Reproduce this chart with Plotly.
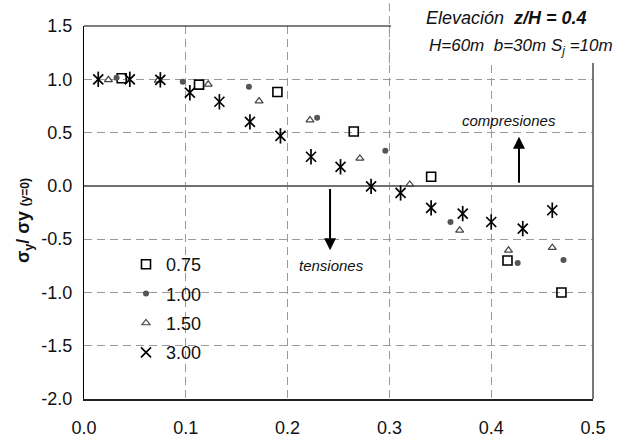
import plotly.graph_objects as go

# ---- data ----
x_075 = [0.037, 0.113, 0.190, 0.265, 0.341, 0.416, 0.469]
y_075 = [1.01, 0.95, 0.88, 0.51, 0.085, -0.70, -1.00]

x_100 = [0.032, 0.097, 0.162, 0.229, 0.296, 0.360, 0.426, 0.471]
y_100 = [1.015, 0.978, 0.93, 0.64, 0.33, -0.34, -0.725, -0.695]

x_150 = [0.024, 0.073, 0.122, 0.172, 0.222, 0.271, 0.320, 0.369, 0.417, 0.460]
y_150 = [0.995, 0.99, 0.953, 0.796, 0.617, 0.257, 0.013, -0.417, -0.605, -0.58]

x_300 = [0.014, 0.045, 0.075, 0.104, 0.133, 0.163, 0.193, 0.223, 0.252, 0.282,
         0.311, 0.341, 0.372, 0.400, 0.431, 0.460]
y_300 = [1.0, 1.0, 0.995, 0.874, 0.789, 0.6, 0.469, 0.273, 0.179, -0.005,
         -0.066, -0.207, -0.26, -0.339, -0.401, -0.229]

series_names = ["0.75", "1.00", "1.50", "3.00"]
x_ticks = [0.0, 0.1, 0.2, 0.3, 0.4, 0.5]
y_ticks = [1.5, 1.0, 0.5, 0.0, -0.5, -1.0, -1.5, -2.0]

FONT = "Liberation Sans, Arial, sans-serif"
TXT = "#111111"

fig = go.Figure()

fig.add_trace(go.Scatter(
    x=x_075, y=y_075, mode="markers", name=series_names[0], legendgroup="a",
    marker=dict(symbol="square-open", size=9, color="black",
                line=dict(width=1.6, color="black"))))
fig.add_trace(go.Scatter(
    x=x_100, y=y_100, mode="markers", name=series_names[1], legendgroup="b",
    marker=dict(symbol="circle", size=6, color="#555555",
                line=dict(width=0))))
fig.add_trace(go.Scatter(
    x=x_150, y=y_150, mode="markers", name=series_names[2], legendgroup="c",
    marker=dict(symbol="triangle-up-open", size=7, color="#444444",
                line=dict(width=1.2, color="#444444"))))
fig.add_trace(go.Scatter(
    x=x_300, y=y_300, mode="markers", name=series_names[3], legendgroup="d",
    marker=dict(symbol="x-thin-open", size=10, color="black",
                line=dict(width=1.7, color="black"))))
fig.add_trace(go.Scatter(
    x=x_300, y=y_300, mode="markers", name=series_names[3], legendgroup="d",
    showlegend=False, hoverinfo="skip",
    marker=dict(symbol="line-ns-open", size=11, color="black",
                line=dict(width=1.7, color="black"))))

grid = dict(showgrid=True, gridcolor="#9a9a9a", gridwidth=1, griddash="8px,5px")

def fmt(v):
    return f"{v:.1f}"

fig.update_xaxes(range=[0, 0.5], tickvals=x_ticks, ticktext=[fmt(v) for v in x_ticks],
                 showline=True, linecolor="#222222", linewidth=1.5,
                 zeroline=False, ticks="", ticklabelstandoff=12, automargin=False,
                 tickfont=dict(size=18, color=TXT, family=FONT), **grid)
fig.update_yaxes(range=[-2, 1.5], tickvals=y_ticks, ticktext=[fmt(v) for v in y_ticks],
                 showline=True, linecolor="black", linewidth=1.2,
                 zeroline=True, zerolinecolor="#707070", zerolinewidth=1.6,
                 ticks="", ticklabelstandoff=7, automargin=False,
                 tickfont=dict(size=18, color=TXT, family=FONT),
                 **grid)

W, H = 619, 438
L, R, T, B = 84, 26, 26, 39
pw, ph = W - L - R, H - T - B
def px_to_paper(px, py):
    return (px - L) / pw, (H - B - py) / ph

shapes = [
    # right frame line (grey)
    dict(type="line", xref="x domain", yref="y domain", x0=1, x1=1, y0=0, y1=1,
         line=dict(color="#555555", width=1.6), layer="above"),
    # top frame line
    dict(type="line", xref="x domain", yref="y domain", x0=0, x1=1, y0=1, y1=1,
         line=dict(color="black", width=1.2), layer="above"),
    # white box behind the title text
    dict(type="rect", xref="paper", yref="paper", x0=px_to_paper(391, 0)[0], x1=1.1,
         y0=px_to_paper(0, 63)[1], y1=1.1,
         fillcolor="white", line=dict(width=0), layer="above"),
    # dashed grid line at x=0.3 continuing to the top
    dict(type="line", xref="x", yref="paper", x0=0.3, x1=0.3, y0=0.9, y1=1.08,
         line=dict(color="#9a9a9a", width=1, dash="8px,5px"), layer="above"),
]

tx1, ty1 = px_to_paper(589, 18)
tx2, ty2 = px_to_paper(615, 47)
yx, yy = px_to_paper(24, 221)

annotations = [
    dict(x=0.4273, y=0.46, ax=0.4273, ay=0.015, xref="x", yref="y", axref="x", ayref="y",
         text="", showarrow=True, arrowhead=2, arrowsize=1.2, arrowwidth=2, arrowcolor="black"),
    dict(x=0.417, y=0.617, xref="x", yref="y", text="<i>compresiones</i>", showarrow=False,
         font=dict(size=15, color=TXT, family=FONT)),
    dict(x=0.2417, y=-0.604, ax=0.2417, ay=-0.015, xref="x", yref="y", axref="x", ayref="y",
         text="", showarrow=True, arrowhead=2, arrowsize=1.2, arrowwidth=2, arrowcolor="black"),
    dict(x=0.2436, y=-0.744, xref="x", yref="y", text="<i>tensiones</i>", showarrow=False,
         font=dict(size=15, color=TXT, family=FONT)),
    dict(x=tx1, y=ty1, xref="paper", yref="paper", xanchor="right", yanchor="middle",
         text="<i>Elevación  <b>z/H = 0.4</b></i>", showarrow=False,
         font=dict(size=18, color=TXT, family=FONT)),
    dict(x=tx2, y=ty2, xref="paper", yref="paper", xanchor="right", yanchor="middle",
         text="<i>H=60m  b=30m S<sub>j</sub> =10m</i>", showarrow=False,
         font=dict(size=17, color=TXT, family=FONT)),
    dict(x=yx, y=yy, xref="paper", yref="paper", xanchor="center", yanchor="middle",
         textangle=-90, showarrow=False,
         text="<b>σ<sub>y</sub>/ σy <span style='font-size:12px'>(y=0)</span></b>",
         font=dict(size=18, color=TXT, family=FONT)),
]

lx, ly = px_to_paper(126, 246)
fig.update_layout(
    width=W, height=H,
    margin=dict(l=L, r=R, t=T, b=B, autoexpand=False),
    paper_bgcolor="white", plot_bgcolor="white",
    font=dict(family=FONT, size=18, color=TXT),
    showlegend=True,
    legend=dict(x=lx, y=ly, xanchor="left", yanchor="top", bgcolor="rgba(0,0,0,0)",
                font=dict(size=18, color=TXT, family=FONT),
                tracegroupgap=3),
    shapes=shapes,
    annotations=annotations,
)

fig.write_html("out.html", config={"displayModeBar": False},
               post_script="document.body.style.margin='0';")
